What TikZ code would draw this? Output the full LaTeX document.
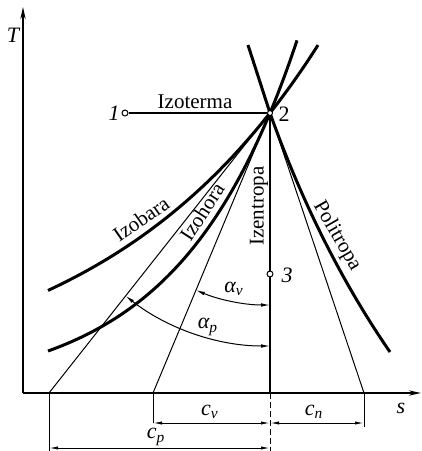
\documentclass[tikz,border=0pt]{standalone}
\usepackage{fontspec}
\setmainfont{Liberation Serif}
\usetikzlibrary{arrows.meta}
\begin{document}
\begin{tikzpicture}[x=0.5pt,y=-0.5pt,
  thickcurve/.style={line width=1.5pt},
  thinline/.style={line width=0.5pt},
  axisline/.style={line width=0.9pt,-{Stealth[length=6pt,width=2.6pt]}},
  dimline/.style={line width=0.5pt,{Latex[length=4.5pt,width=1.6pt]}-{Latex[length=4.5pt,width=1.6pt]}},
  anglearc/.style={line width=0.5pt,{Latex[length=4.5pt,width=1.8pt]}-{Latex[length=4.5pt,width=1.8pt]}},
  lbl/.style={font=\fontsize{10.5}{12}\selectfont, inner sep=0pt},
  symlbl/.style={font=\fontsize{11}{13}\selectfont\itshape, inner sep=0pt},
  ptcirc/.style={circle,draw,fill=white,inner sep=0pt,minimum size=3pt,line width=0.5pt}]
\useasboundingbox (0,0) rectangle (422,451);
% key points
\coordinate (O) at (23,393);
\coordinate (Ttop) at (23,7);
\coordinate (Send) at (421,393);
\coordinate (P2) at (270,113);
\coordinate (A) at (49,393);
\coordinate (B) at (153,393);
\coordinate (C) at (270,393);
\coordinate (D) at (364,393);
\coordinate (Aend) at (49,451);
\coordinate (Bend) at (153,423);
\coordinate (Cend) at (270,451);
\coordinate (Dend) at (364,427);
\coordinate (cvL) at (153,423);
\coordinate (cvR) at (270,423);
\coordinate (cnR) at (364,423);
\coordinate (cpL) at (49,448);
\coordinate (cpR) at (270,448);
\coordinate (polTop) at (248,45);
\coordinate (polEnd) at (390,352);
% axes
\draw[axisline] (O) -- (Ttop);
\draw[axisline] (O) -- (Send);
\node[symlbl] (Tl) at (13,35) {T};
\node[symlbl] (sl) at (401,408) {s};
% tangent lines
\draw[thinline] (A) -- (P2);
\draw[thinline] (B) -- (P2);
\draw[thinline] (D) -- (P2);
% isobar and isochore
\draw[thickcurve] plot[domain=48:318,samples=80,smooth] (\x,{393-280*exp((\x-270)/221)});
\draw[thickcurve] plot[domain=48:297,samples=80,smooth] (\x,{393-280*exp((\x-270)/117)});
% polytrope
\draw[thickcurve] (polTop) -- (P2) .. controls (292,175) and (330,265) .. (polEnd);
% isentrope
\draw[line width=1.2pt] (P2) -- (C);
% points
\node[ptcirc] (p1) at (125,113) {};
\node[ptcirc,minimum size=2.5pt] (p2) at (270,113) {};
\node[ptcirc] (p3) at (270,274) {};
\draw[line width=0.9pt] (p1) -- (p2);
\node[symlbl] (l1) at (114,113) {1};
\node[font=\fontsize{11}{13}\selectfont, inner sep=0pt] (l2) at (284,114) {2};
\node[symlbl] (l3) at (287,275) {3};
% curve labels
\node[lbl] (iz) at (195,102) {Izoterma};
\node[lbl,rotate=35] (ib) at (141,219) {Izobara};
\node[lbl,rotate=57] (ih) at (202,212) {Izohora};
\node[lbl,rotate=90] (ie) at (259,206) {Izentropa};
\node[lbl,rotate=-60] (ip) at (337,236) {Politropa};
% angle arcs
\draw[anglearc] ([shift={(112.7:192)}]P2) arc[start angle=112.7,end angle=90,radius=192];
\draw[anglearc] ([shift={(128.3:233)}]P2) arc[start angle=128.3,end angle=90,radius=233];
\node[symlbl] (av) at (234,289) {α\textsubscript{\textit{v}}};
\node[symlbl] (ap) at (208,327) {α\textsubscript{\textit{p}}};
% dimension lines
\draw[thinline] (A) -- (Aend);
\draw[thinline] (B) -- (Bend);
\draw[thinline] (D) -- (Dend);
\draw[thinline,dashed,dash pattern=on 3pt off 1.5pt] (C) -- (Cend);
\draw[dimline] (cvL) -- (cvR);
\draw[dimline] (cvR) -- (cnR);
\draw[dimline] (cpL) -- (cpR);
\node[symlbl] (cv) at (210,412) {c\textsubscript{\textit{v}}};
\node[symlbl] (cn) at (314,412) {c\textsubscript{\textit{n}}};
\node[symlbl] (cp) at (156,437) {c\textsubscript{\textit{p}}};
\end{tikzpicture}
\end{document}
